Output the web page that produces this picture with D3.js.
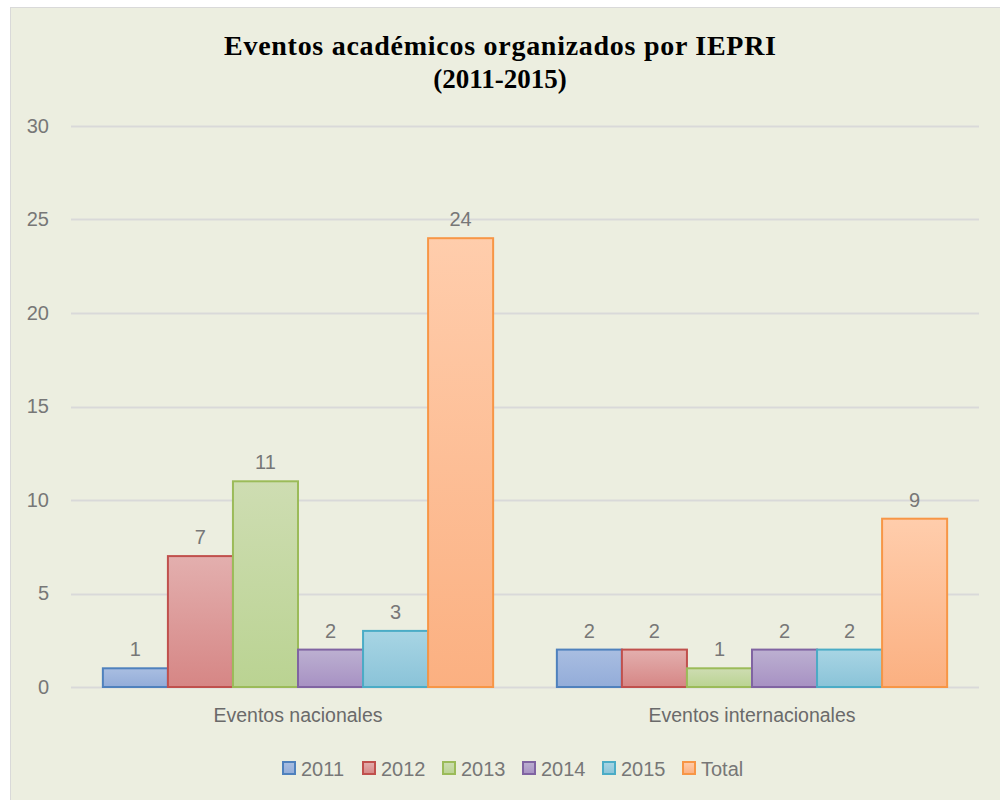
<!DOCTYPE html>
<html>
<head>
<meta charset="utf-8">
<script src="https://cdn.jsdelivr.net/npm/d3@7"></script>
<style>
  body { margin: 0; background: #fff; }
  svg text { font-family: "Liberation Sans", Arial, sans-serif; }
</style>
</head>
<body>
<svg id="chart" width="1000" height="800"></svg>
<script>
// data
var categories = ["Eventos nacionales", "Eventos internacionales"];
var seriesNames = ["2011", "2012", "2013", "2014", "2015", "Total"];
var nacionales = [1, 7, 11, 2, 3, 24];
var internacionales = [2, 2, 1, 2, 2, 9];
var yTicks = [0, 5, 10, 15, 20, 25, 30];

var strokes = ["#4F81BD", "#C0504D", "#9BBB59", "#8064A2", "#4BACC6", "#F79646"];
var topFill = ["#A9BEE1", "#E3AFAE", "#CEDDB2", "#BCB0D1", "#A8D5E4", "#FFCDAC"];
var botFill = ["#93ACD9", "#D68685", "#BAD392", "#A791C3", "#8AC3D8", "#FBB081"];

var values = [nacionales, internacionales];

var svg = d3.select("#chart");

// chart background + border
svg.append("rect")
    .attr("x", 10.5).attr("y", 7.5)
    .attr("width", 1000).attr("height", 800)
    .attr("fill", "#ECEEE0")
    .attr("stroke", "#D9D9D9");

var defs = svg.append("defs");
seriesNames.forEach(function (s, i) {
    var g = defs.append("linearGradient")
        .attr("id", "grad" + i)
        .attr("x1", 0).attr("y1", 0).attr("x2", 0).attr("y2", 1);
    g.append("stop").attr("offset", "0%").attr("stop-color", topFill[i]);
    g.append("stop").attr("offset", "100%").attr("stop-color", botFill[i]);
});

var plotLeft = 71, plotRight = 979, plotTop = 126, plotBottom = 687;

var y = d3.scaleLinear().domain([0, 30]).range([plotBottom, plotTop]);
var x0 = d3.scaleBand().domain(categories).range([plotLeft, plotRight]).paddingInner(0).paddingOuter(0);
var x1 = d3.scaleBand().domain(seriesNames).range([0, x0.bandwidth()]).paddingOuter(0.49);

// title
var title = svg.append("text")
    .attr("text-anchor", "middle")
    .style("font-family", "'Liberation Serif', 'DejaVu Serif', serif")
    .style("font-weight", "bold")
    .style("font-size", "28px")
    .attr("fill", "#000");
title.append("tspan").attr("x", 500).attr("y", 55)
    .attr("textLength", 552).attr("lengthAdjust", "spacing")
    .text("Eventos académicos organizados por IEPRI");
title.append("tspan").attr("x", 500).attr("y", 88)
    .style("font-size", "27px")
    .text("(2011-2015)");

// gridlines
svg.append("g").selectAll("line")
    .data(yTicks)
    .enter().append("line")
    .attr("x1", plotLeft).attr("x2", plotRight)
    .attr("y1", function (d) { return Math.round(y(d)) + 0.5; })
    .attr("y2", function (d) { return Math.round(y(d)) + 0.5; })
    .attr("stroke", "#D9D9D9")
    .attr("stroke-width", 2);

// y axis labels
var yAxis = d3.axisLeft(y).tickValues(yTicks).tickSize(0).tickPadding(0);
var ya = svg.append("g")
    .attr("transform", "translate(49,0)")
    .call(yAxis);
ya.select(".domain").remove();
ya.selectAll("text")
    .style("font-family", "'Liberation Sans', Arial, sans-serif")
    .style("font-size", "20px")
    .attr("fill", "#777777");

// bars
var groups = svg.append("g").selectAll("g")
    .data(categories)
    .enter().append("g")
    .attr("transform", function (d) { return "translate(" + x0(d) + ",0)"; });

function rows(d, ci) {
    return seriesNames.map(function (s, i) { return { s: s, i: i, v: values[ci][i] }; });
}

groups.selectAll("rect")
    .data(rows)
    .enter().append("rect")
    .attr("x", function (d) { return x1(d.s); })
    .attr("y", function (d) { return y(d.v); })
    .attr("width", x1.bandwidth())
    .attr("height", function (d) { return y(0) - y(d.v); })
    .attr("fill", function (d) { return "url(#grad" + d.i + ")"; })
    .attr("stroke", function (d) { return strokes[d.i]; })
    .attr("stroke-width", 2);

groups.selectAll("text.lbl")
    .data(rows)
    .enter().append("text")
    .attr("class", "lbl")
    .attr("x", function (d) { return x1(d.s) + x1.bandwidth() / 2; })
    .attr("y", function (d) { return y(d.v) - 12; })
    .attr("text-anchor", "middle")
    .style("font-size", "20px")
    .attr("fill", "#777777")
    .text(function (d) { return d.v; });

// category labels
var xAxis = d3.axisBottom(x0).tickSize(0).tickPadding(0);
var xa = svg.append("g")
    .attr("transform", "translate(0,708)")
    .call(xAxis);
xa.select(".domain").remove();
xa.selectAll("text")
    .style("font-family", "'Liberation Sans', Arial, sans-serif")
    .style("font-size", "19.5px")
    .attr("fill", "#6a6a6a");

// legend
var legend = svg.append("g").selectAll("g")
    .data(seriesNames)
    .enter().append("g")
    .attr("transform", function (d, i) { return "translate(" + (283 + i * 80) + ",762)"; });

legend.append("rect")
    .attr("width", 12).attr("height", 12)
    .attr("fill", function (d, i) { return "url(#grad" + i + ")"; })
    .attr("stroke", function (d, i) { return strokes[i]; })
    .attr("stroke-width", 2);

legend.append("text")
    .attr("x", 18).attr("y", 14)
    .style("font-size", "20px")
    .attr("fill", "#777777")
    .text(function (d) { return d; });
</script>
</body>
</html>
